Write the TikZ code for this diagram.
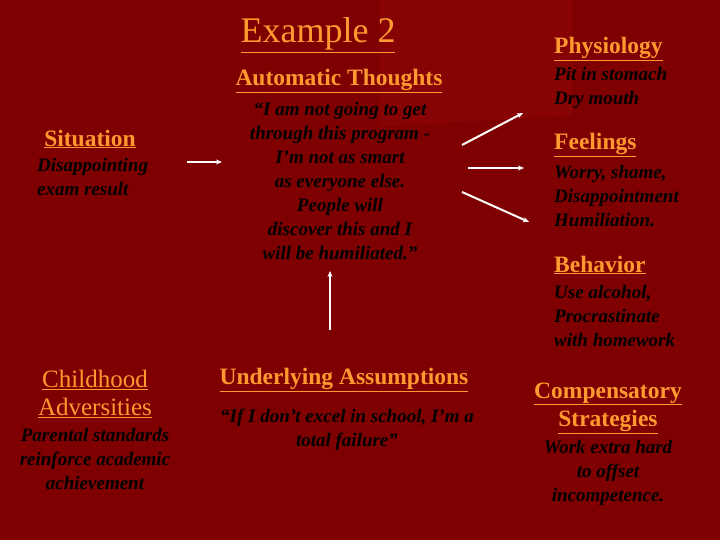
\documentclass[tikz,border=0pt]{standalone}
\usepackage{fontspec}
\setmainfont{Liberation Serif}
\newcommand\myul[1]{\underline{#1}}
\usetikzlibrary{arrows.meta}
\definecolor{bg}{HTML}{7E0000}
\definecolor{bgl}{HTML}{880303}
\definecolor{org}{HTML}{FF9A30}
\begin{document}
\begin{tikzpicture}[x=1pt,y=-1pt,
  head/.style={text=org,font=\bfseries\fontsize{23.5}{28}\selectfont,align=center,inner sep=0pt},
  body/.style={text=black,font=\bfseries\itshape\fontsize{19}{24}\selectfont,inner sep=0pt},
  arr/.style={white,line width=2pt,-{Stealth[length=6pt,width=5pt]}}]
\fill[bg] (0,0) rectangle (720,540);
\fill[bgl] (380,0) -- (572,0) -- (572,115) -- (380,127) -- cycle;
\node[text=org,font=\fontsize{36}{40}\selectfont,inner sep=0pt] (title) at (318,35) {\myul{Example 2}};
\node[head] (ath) at (339,81) {\myul{Automatic Thoughts}};
\node[body,align=center] (q) at (340,181) {\textquotedblleft I am not going to get\\through this program -\\I'm not as smart\\as everyone else.\\People will\\discover this and I\\will be humiliated.\textquotedblright};
\node[head] (sit) at (90,139) {\myul{Situation}};
\node[body,align=left,anchor=west] (sitb) at (37,177) {Disappointing\\exam result};
\node[head,anchor=west] (phy) at (554,49) {\myul{Physiology}};
\node[body,align=left,anchor=west] (phyb) at (554,88) {Pit in stomach\\Dry mouth};
\node[head,anchor=west] (fee) at (554,145) {\myul{Feelings}};
\node[body,align=left,anchor=west] (feeb) at (554,196) {Worry, shame,\\Disappointment\\Humiliation.};
\node[head,anchor=west] (beh) at (554,265) {\myul{Behavior}};
\node[body,align=left,anchor=west] (behb) at (554,316) {Use alcohol,\\Procrastinate\\with homework};
\node[head,font=\fontsize{25}{28}\selectfont] (chi) at (95,394) {\myul{Childhood}\\\myul{Adversities}};
\node[body,align=center] (chib) at (95,459) {Parental standards\\reinforce academic\\achievement};
\node[head] (und) at (344,380) {\myul{Underlying Assumptions}};
\node[body,align=center] (undb) at (347,430) {\textquotedblleft If I don't excel in school,  I'm a\\total failure\textquotedblright};
\node[head] (com) at (608,408) {\myul{Compensatory}\\\myul{Strategies}};
\node[body,align=center] (comb) at (608,473) {Work extra hard\\to offset\\incompetence.};
\coordinate (a1) at (187,162); \coordinate (a2) at (222,162);
\coordinate (b1) at (330,330); \coordinate (b2) at (330,271);
\coordinate (c1) at (462,145); \coordinate (c2) at (523,113);
\coordinate (d1) at (468,168); \coordinate (d2) at (524,168);
\coordinate (e1) at (462,192); \coordinate (e2) at (529,222);
\draw[arr] (a1) -- (a2);
\draw[arr] (b1) -- (b2);
\draw[arr] (c1) -- (c2);
\draw[arr] (d1) -- (d2);
\draw[arr] (e1) -- (e2);
\end{tikzpicture}
\end{document}
